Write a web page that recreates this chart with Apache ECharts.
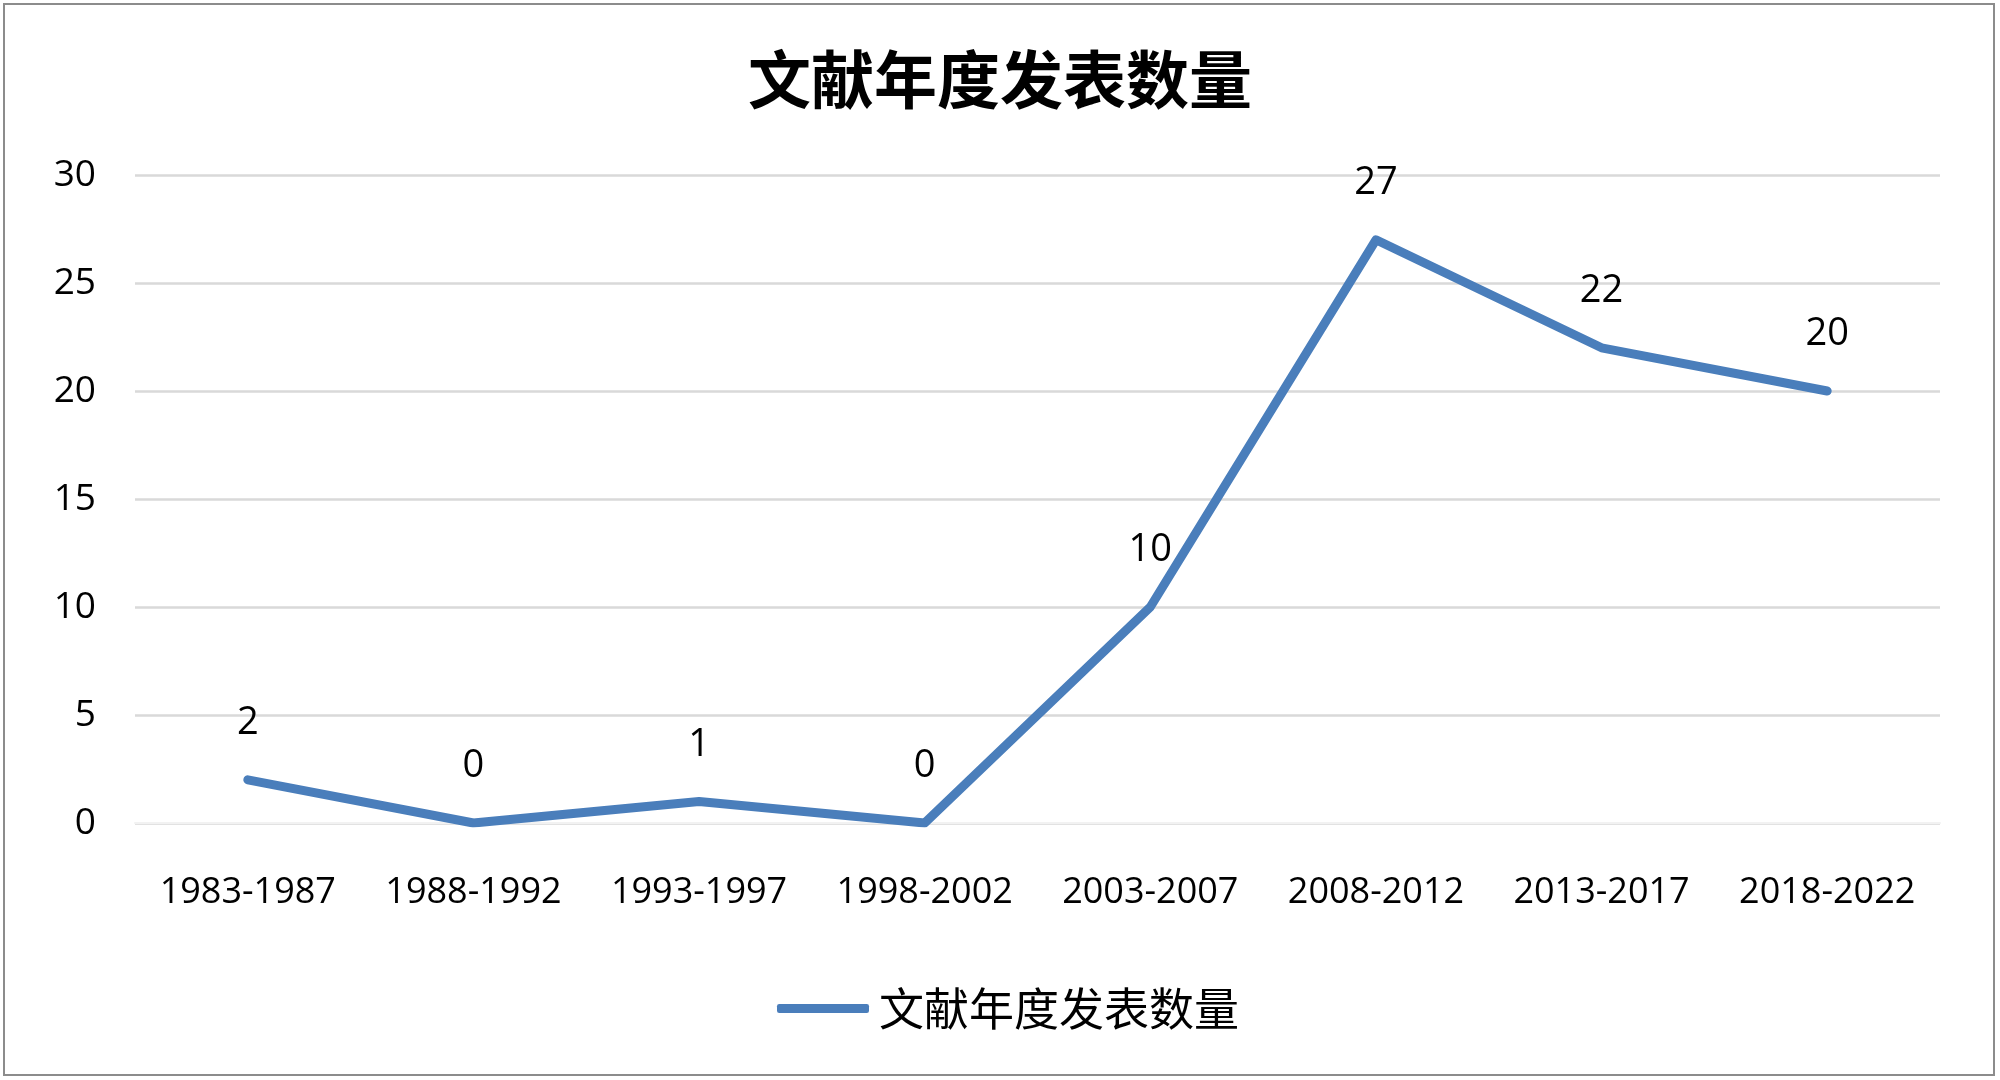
<!DOCTYPE html>
<html>
<head>
<meta charset="utf-8">
<script src="https://cdn.jsdelivr.net/npm/echarts@6/dist/echarts.min.js"></script>
<style>
html,body{margin:0;padding:0;background:#fff;}
#main{width:2000px;height:1080px;}
</style>
</head>
<body>
<div id="main"></div>
<script>
const titleText = '文献年度发表数量';
const seriesName = '文献年度发表数量';
const categories = ['1983-1987','1988-1992','1993-1997','1998-2002','2003-2007','2008-2012','2013-2017','2018-2022'];
const values = [2, 0, 1, 0, 10, 27, 22, 20];
const yTicks = { min: 0, max: 30, interval: 5 };

const chart = echarts.init(document.getElementById('main'));
chart.setOption({
  backgroundColor: '#ffffff',
  animation: false,
  graphic: [{
    type: 'rect',
    shape: { x: 4, y: 4, width: 1990, height: 1071 },
    style: { fill: 'none', stroke: '#8c8c8c', lineWidth: 2 },
    silent: true
  }],
  title: {
    text: titleText,
    left: 'center',
    top: 43,
    textStyle: {
      fontFamily: 'Noto Sans CJK SC',
      fontSize: 63,
      fontWeight: 'bold',
      color: '#000'
    }
  },
  legend: {
    left: 772,
    top: 981,
    icon: 'roundRect',
    itemWidth: 92,
    itemHeight: 9,
    itemGap: 10,
    textStyle: {
      fontFamily: 'Noto Sans CJK SC',
      fontSize: 45,
      color: '#000',
      padding: [0, 0, 0, 5]
    },
    data: [seriesName]
  },
  grid: { left: 135, right: 60, top: 175, bottom: 257, containLabel: false },
  xAxis: {
    type: 'category',
    data: categories,
    boundaryGap: true,
    axisLine: { show: true, lineStyle: { color: '#f2f2f2', width: 2 } },
    axisTick: { show: false },
    axisLabel: {
      fontFamily: 'Open Sans',
      fontSize: 36,
      color: '#000',
      margin: 52,
      interval: 0
    }
  },
  yAxis: {
    type: 'value',
    min: yTicks.min,
    max: yTicks.max,
    interval: yTicks.interval,
    axisLine: { show: false },
    axisTick: { show: false },
    splitLine: { show: true, lineStyle: { color: '#d9d9d9', width: 2.5 } },
    axisLabel: {
      fontFamily: 'Open Sans',
      fontSize: 37,
      color: '#000',
      margin: 39,
      padding: [4, 0, 0, 0]
    }
  },
  series: [{
    name: seriesName,
    type: 'line',
    data: values,
    symbol: 'circle',
    symbolSize: 1,
    showSymbol: true,
    color: '#4a7ebb',
    lineStyle: { color: '#4a7ebb', width: 9, cap: 'round', join: 'round' },
    itemStyle: { color: '#4a7ebb' },
    label: {
      show: true,
      position: 'top',
      distance: 37,
      fontFamily: 'Open Sans',
      fontSize: 38,
      color: '#000'
    }
  }]
});
</script>
</body>
</html>
